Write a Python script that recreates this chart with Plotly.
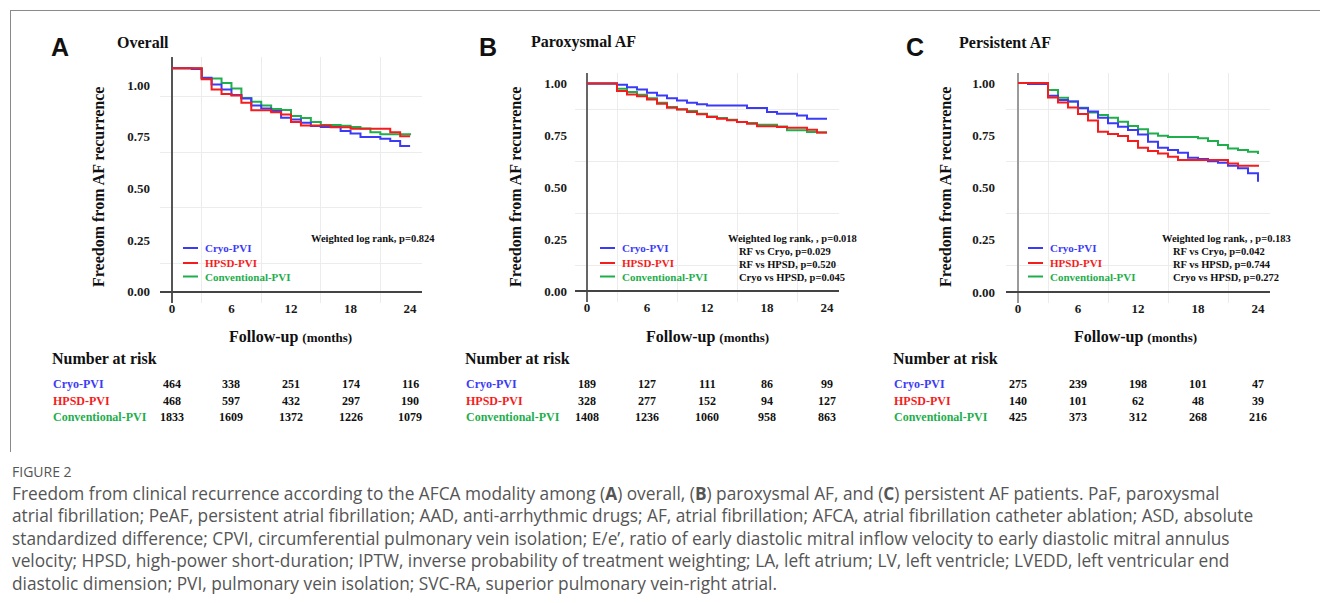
import plotly.graph_objects as go

W, H = 1320, 603

CRYO_C = "#3B3BF7"
HPSD_C = "#F41C1C"
CONV_C = "#1EAE4C"
SERIF = "Liberation Serif"
SANS = "Liberation Sans"

groups = ["Cryo-PVI", "HPSD-PVI", "Conventional-PVI"]
group_colors = [CRYO_C, HPSD_C, CONV_C]

x_tick_vals = [0, 6, 12, 18, 24]
y_tick_vals = [0, 0.25, 0.5, 0.75, 1.0]
y_tick_text = ["0.00", "0.25", "0.50", "0.75", "1.00"]

# ---- Panel A: Overall ----
A_cryo_t = [0, 2, 3, 4, 5, 6, 7, 8, 9, 10, 11, 12, 13, 14, 15, 17, 18, 19, 21, 22, 23, 24]
A_cryo_s = [1.0, 0.996, 0.957, 0.927, 0.905, 0.880, 0.864, 0.833, 0.820, 0.808, 0.778, 0.770,
            0.756, 0.741, 0.737, 0.719, 0.708, 0.692, 0.685, 0.674, 0.652, 0.652]
A_hpsd_t = [0, 3, 4, 5, 6, 7, 8, 10, 11, 12, 13, 16, 18, 22, 23, 24]
A_hpsd_s = [1.0, 0.950, 0.905, 0.885, 0.878, 0.845, 0.812, 0.803, 0.793, 0.759, 0.744, 0.736,
            0.729, 0.714, 0.696, 0.696]
A_conv_t = [0, 3, 5, 6, 7, 8, 9, 10, 11, 12, 13, 14, 15, 17, 18, 19, 20, 21, 24]
A_conv_s = [1.0, 0.954, 0.934, 0.909, 0.867, 0.850, 0.833, 0.818, 0.813, 0.786, 0.777, 0.759,
            0.746, 0.743, 0.737, 0.730, 0.714, 0.705, 0.700]
A_risk_cryo = [464, 338, 251, 174, 116]
A_risk_hpsd = [468, 597, 432, 297, 190]
A_risk_conv = [1833, 1609, 1372, 1226, 1079]

# ---- Panel B: Paroxysmal AF ----
B_cryo_t = [0, 3, 4, 5, 6, 7, 8, 9, 10, 11, 12, 16, 18, 19, 21, 22, 24]
B_cryo_s = [1.0, 0.993, 0.982, 0.971, 0.955, 0.942, 0.929, 0.918, 0.907, 0.899, 0.894, 0.881,
            0.862, 0.854, 0.846, 0.830, 0.830]
B_hpsd_t = [0, 3, 4, 5, 6, 7, 8, 9, 10, 11, 12, 13, 14, 15, 16, 17, 19, 20, 22, 23, 24]
B_hpsd_s = [1.0, 0.963, 0.947, 0.938, 0.922, 0.902, 0.883, 0.874, 0.862, 0.851, 0.838, 0.830,
            0.822, 0.814, 0.806, 0.794, 0.790, 0.787, 0.777, 0.763, 0.763]
B_conv_t = [0, 3, 4, 5, 6, 7, 8, 9, 10, 11, 12, 13, 14, 15, 16, 17, 19, 20, 22, 23, 24]
B_conv_s = [1.0, 0.974, 0.958, 0.945, 0.929, 0.907, 0.886, 0.875, 0.867, 0.854, 0.841, 0.833,
            0.825, 0.814, 0.809, 0.801, 0.793, 0.774, 0.766, 0.763, 0.763]
B_risk_cryo = [189, 127, 111, 86, 99]
B_risk_hpsd = [328, 277, 152, 94, 127]
B_risk_conv = [1408, 1236, 1060, 958, 863]

# ---- Panel C: Persistent AF ----
C_cryo_t = [0, 1, 3, 4, 5, 6, 7, 8, 9, 10, 11, 12, 13, 14, 15, 16, 17, 18, 19, 20, 21, 22, 23, 24]
C_cryo_s = [1.0, 0.995, 0.939, 0.919, 0.911, 0.879, 0.863, 0.834, 0.807, 0.791, 0.775, 0.754,
            0.719, 0.690, 0.679, 0.666, 0.642, 0.636, 0.626, 0.618, 0.604, 0.592, 0.568, 0.528]
C_hpsd_t = [0, 3, 4, 5, 6, 7, 8, 9, 10, 11, 12, 13, 14, 15, 16, 21, 22, 24]
C_hpsd_s = [1.0, 0.931, 0.906, 0.883, 0.852, 0.820, 0.767, 0.756, 0.746, 0.722, 0.690, 0.674,
            0.663, 0.647, 0.631, 0.615, 0.604, 0.599]
C_conv_t = [0, 3, 4, 5, 6, 7, 8, 9, 10, 11, 12, 13, 14, 15, 18, 19, 20, 21, 22, 23, 24]
C_conv_s = [1.0, 0.966, 0.929, 0.911, 0.882, 0.859, 0.847, 0.834, 0.815, 0.794, 0.778, 0.758,
            0.748, 0.741, 0.735, 0.722, 0.703, 0.687, 0.679, 0.671, 0.660]
C_risk_cryo = [275, 239, 198, 101, 47]
C_risk_hpsd = [140, 101, 62, 48, 39]
C_risk_conv = [425, 373, 312, 268, 216]

panel_letters = ["A", "B", "C"]
panel_titles = ["Overall", "Paroxysmal AF", "Persistent AF"]
stats_text = [
    ["Weighted log rank, p=0.824"],
    ["Weighted log rank, , p=0.018", "RF vs Cryo, p=0.029", "RF vs HPSD, p=0.520", "Cryo vs HPSD, p=0.045"],
    ["Weighted log rank, , p=0.183", "RF vs Cryo, p=0.042", "RF vs HPSD, p=0.744", "Cryo vs HPSD, p=0.272"],
]

caption_label = "FIGURE 2"
caption_lines = [
    "Freedom from clinical recurrence according to the AFCA modality among (<b>A</b>) overall, (<b>B</b>) paroxysmal AF, and (<b>C</b>) persistent AF patients. PaF, paroxysmal",
    "atrial fibrillation; PeAF, persistent atrial fibrillation; AAD, anti-arrhythmic drugs; AF, atrial fibrillation; AFCA, atrial fibrillation catheter ablation; ASD, absolute",
    "standardized difference; CPVI, circumferential pulmonary vein isolation; E/e’, ratio of early diastolic mitral inflow velocity to early diastolic mitral annulus",
    "velocity; HPSD, high-power short-duration; IPTW, inverse probability of treatment weighting; LA, left atrium; LV, left ventricle; LVEDD, left ventricular end",
    "diastolic dimension; PVI, pulmonary vein isolation; SVC-RA, superior pulmonary vein-right atrial.",
]

curves = [
    [(A_cryo_t, A_cryo_s), (A_hpsd_t, A_hpsd_s), (A_conv_t, A_conv_s)],
    [(B_cryo_t, B_cryo_s), (B_hpsd_t, B_hpsd_s), (B_conv_t, B_conv_s)],
    [(C_cryo_t, C_cryo_s), (C_hpsd_t, C_hpsd_s), (C_conv_t, C_conv_s)],
]
risks = [
    [A_risk_cryo, A_risk_hpsd, A_risk_conv],
    [B_risk_cryo, B_risk_hpsd, B_risk_conv],
    [C_risk_cryo, C_risk_hpsd, C_risk_conv],
]

# ---------------- layout geometry (pixels) ----------------
def fx(px):
    return px / W


def fy(py):
    return 1 - py / H


panel_box = [  # left, right, top, bottom (px)
    (160, 422, 57, 303),
    (575, 839, 73, 301.5),
    (1006, 1270, 72.5, 302.5),
]
# in panel A of the original the tick labels are drawn compressed relative to the curves
y_label_scale = [0.925, 1.0, 1.0]
y_label_standoff = [9, 7, 10]
yaxis_line_color = ["#555555", "#666666", "#9a9a9a"]
yaxis_line_width = [1.5, 1.5, 2]
letter_x = [49, 477, 904]
title_x = [115, 529, 957]
ytitle_x = [98, 515, 945]
xtitle_x = [290, 707, 1135]
risk_label_x = [50, 463, 891]
legend_x = [183, 600, 1028]
legend_y = [248, 263, 276.5]
risk_row_y = [384, 401, 417]

fig = go.Figure()
annotations = []
shapes = []

draw_order = [2, 0, 1]
for p in range(3):
    xa = "x" if p == 0 else f"x{p + 1}"
    ya = "y" if p == 0 else f"y{p + 1}"
    for g in draw_order:
        t, s = curves[p][g]
        fig.add_trace(go.Scatter(
            x=t, y=s, mode="lines", line=dict(shape="hv", color=group_colors[g], width=2),
            xaxis=xa, yaxis=ya, showlegend=False, name=groups[g], hoverinfo="skip"))

    l, r, tp, bt = panel_box[p]
    axis_kw = dict(domain=[fx(l), fx(r)], range=[-1.2, 25.2], tickvals=x_tick_vals,
                   ticktext=[str(v) for v in x_tick_vals], showgrid=False, showline=False,
                   zeroline=True, zerolinecolor=yaxis_line_color[p], zerolinewidth=yaxis_line_width[p],
                   ticks="", ticklabelstandoff=-4,
                   tickfont=dict(family=SERIF, size=13, color="#1a1a1a", weight="bold"),
                   minor=dict(tickvals=[3, 9, 15, 21], showgrid=True, gridcolor="#ececec", gridwidth=1),
                   anchor=ya, fixedrange=True)
    yaxis_kw = dict(domain=[fy(bt), fy(tp)], range=[-0.05, 1.05],
                    tickvals=[v * y_label_scale[p] for v in y_tick_vals], ticktext=y_tick_text,
                    showgrid=False, showline=False, zeroline=True, zerolinecolor="#444444",
                    zerolinewidth=1.5, ticks="", ticklabelstandoff=y_label_standoff[p],
                    tickfont=dict(family=SERIF, size=13, color="#1a1a1a", weight="bold"),
                    minor=dict(tickvals=[0.125, 0.375, 0.625, 0.875], showgrid=True,
                               gridcolor="#ececec", gridwidth=1),
                    anchor=xa, fixedrange=True)
    fig.update_layout(**{("xaxis" if p == 0 else f"xaxis{p + 1}"): axis_kw,
                         ("yaxis" if p == 0 else f"yaxis{p + 1}"): yaxis_kw})

    # panel letter and title
    annotations.append(dict(text=f"<b>{panel_letters[p]}</b>", x=fx(letter_x[p]), y=fy(47),
                            xref="paper", yref="paper", xanchor="left", yanchor="middle",
                            showarrow=False, font=dict(family=SANS, size=25, color="#111111")))
    annotations.append(dict(text=f"<b>{panel_titles[p]}</b>", x=fx(title_x[p]), y=fy(42),
                            xref="paper", yref="paper", xanchor="left", yanchor="middle",
                            showarrow=False, font=dict(family=SERIF, size=16, color="#111111")))
    # axis titles
    annotations.append(dict(text="<b>Freedom from AF recurrence</b>", x=fx(ytitle_x[p]), y=fy(187),
                            xref="paper", yref="paper", xanchor="center", yanchor="middle",
                            textangle=-90, showarrow=False,
                            font=dict(family=SERIF, size=16, color="#111111")))
    annotations.append(dict(text="<b>Follow-up</b> <b><span style='font-size:13px'>(months)</span></b>",
                            x=fx(xtitle_x[p]), y=fy(337), xref="paper", yref="paper",
                            xanchor="center", yanchor="middle", showarrow=False,
                            font=dict(family=SERIF, size=16, color="#111111")))
    # legend
    for g in range(3):
        shapes.append(dict(type="line", xref="paper", yref="paper",
                           x0=fx(legend_x[p]), x1=fx(legend_x[p] + 15),
                           y0=fy(legend_y[g]), y1=fy(legend_y[g]),
                           line=dict(color=group_colors[g], width=2)))
        annotations.append(dict(text=f"<b>{groups[g]}</b>", x=fx(legend_x[p] + 20), y=fy(legend_y[g]),
                                xref="paper", yref="paper", xanchor="left", yanchor="middle",
                                showarrow=False, font=dict(family=SERIF, size=11, color=group_colors[g])))
    # number at risk
    annotations.append(dict(text="<b>Number at risk</b>", x=fx(risk_label_x[p]), y=fy(358),
                            xref="paper", yref="paper", xanchor="left", yanchor="middle",
                            showarrow=False, font=dict(family=SERIF, size=16, color="#111111")))
    for g in range(3):
        annotations.append(dict(text=f"<b>{groups[g]}</b>", x=fx(risk_label_x[p] + 1), y=fy(risk_row_y[g]),
                                xref="paper", yref="paper", xanchor="left", yanchor="middle",
                                showarrow=False, font=dict(family=SERIF, size=12, color=group_colors[g])))
        for k, v in enumerate(risks[p][g]):
            annotations.append(dict(text=f"<b>{v}</b>", x=x_tick_vals[k], y=fy(risk_row_y[g]),
                                    xref=xa, yref="paper", xanchor="center", yanchor="middle",
                                    showarrow=False, font=dict(family=SERIF, size=12, color="#111111")))

# statistics text
annotations.append(dict(text=f"<b>{stats_text[0][0]}</b>", x=fx(437), y=fy(238), xref="paper", yref="paper",
                        xanchor="right", yanchor="middle", showarrow=False,
                        font=dict(family=SERIF, size=10.5, color="#111111")))
for p, (x1, x2) in zip([1, 2], [(726, 737), (1160, 1171)]):
    for i, line in enumerate(stats_text[p]):
        annotations.append(dict(text=f"<b>{line}</b>", x=fx(x1 if i == 0 else x2), y=fy(238.5 + 13 * i),
                                xref="paper", yref="paper", xanchor="left", yanchor="middle",
                                showarrow=False, font=dict(family=SERIF, size=10.5, color="#111111")))

# figure frame
shapes.append(dict(type="line", xref="paper", yref="paper", x0=fx(10), x1=1, y0=fy(10.5), y1=fy(10.5),
                   line=dict(color="#8a8a8a", width=1)))
shapes.append(dict(type="line", xref="paper", yref="paper", x0=fx(10.5), x1=fx(10.5), y0=fy(10), y1=fy(452),
                   line=dict(color="#8a8a8a", width=1)))

# caption
annotations.append(dict(text=caption_label, x=fx(10), y=fy(471), xref="paper", yref="paper",
                        xanchor="left", yanchor="middle", showarrow=False,
                        font=dict(family="Open Sans", size=14, color="#555555")))
for i, line in enumerate(caption_lines):
    annotations.append(dict(text=line, x=fx(10), y=fy(493 + 22.5 * i), xref="paper", yref="paper",
                            xanchor="left", yanchor="middle", showarrow=False,
                            font=dict(family="Open Sans", size=17.3, color="#555555")))

fig.update_layout(width=W, height=H, margin=dict(l=0, r=0, t=0, b=0),
                  paper_bgcolor="white", plot_bgcolor="white",
                  annotations=annotations, shapes=shapes, showlegend=False)

fig.write_html("out.html", config={"displayModeBar": False},
               post_script="document.body.style.margin='0px';")
